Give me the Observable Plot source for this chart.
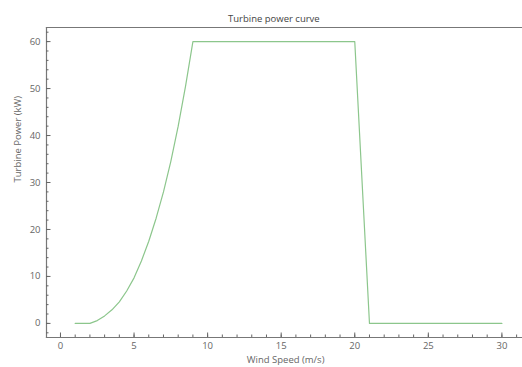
<!DOCTYPE html>
<html>
<head>
<meta charset="utf-8">
<script src="https://cdn.jsdelivr.net/npm/d3@7"></script>
<script src="https://cdn.jsdelivr.net/npm/@observablehq/plot@0.6"></script>
<style>
  html, body { margin: 0; padding: 0; background: #fff; }
  #chart svg { display: block; }
</style>
</head>
<body>
<div id="chart"></div>
<script>
const windSpeed = [1, 2, 2.5, 3, 3.5, 4, 4.5, 5, 5.5, 6, 6.5, 7, 7.5, 8, 8.5, 9, 20, 21, 30];
const power =     [0, 0, 0.6, 1.6, 2.9, 4.6, 6.9, 9.7, 13.3, 17.5, 22.4, 28, 34.5, 42, 50.5, 60, 60, 0, 0];
const xTicks = [0, 5, 10, 15, 20, 25, 30];
const yTicks = [0, 10, 20, 30, 40, 50, 60];
const titleText = "Turbine power curve";
const xLabel = "Wind Speed (m/s)";
const yLabel = "Turbine Power (kW)";

const data = windSpeed.map((x, i) => ({x, y: power[i]}));
const xMinor = d3.range(0, 32, 1);
const yMinor = d3.range(-2, 63, 2);
const axisColor = "#666";
const textColor = "#666";

const W = 522, H = 367, mL = 46, mR = 0, mT = 27, mB = 30;
const fw = W - mL - mR, fh = H - mT - mB;

const chart = Plot.plot({
  width: W,
  height: H,
  marginLeft: mL,
  marginRight: mR,
  marginTop: mT,
  marginBottom: mB,
  style: {fontFamily: "'Open Sans', 'Noto Sans', sans-serif", fontSize: "9.5px", color: textColor, background: "#fff"},
  x: {domain: [-0.95, 31.4]},
  y: {domain: [-3, 63]},
  marks: [
    Plot.frame({anchor: "top", stroke: "#777", strokeWidth: 1.2}),
    Plot.frame({anchor: "left", stroke: "#777", strokeWidth: 1.2}),
    Plot.frame({anchor: "bottom", stroke: "#777", strokeWidth: 1.2}),
    // inward ticks
    Plot.tickX(xMinor, {x: d => d, insetTop: fh - 2.5, stroke: axisColor}),
    Plot.tickX(xTicks, {x: d => d, insetTop: fh - 4.5, stroke: axisColor}),
    Plot.tickY(yMinor, {y: d => d, insetRight: fw - 2.5, stroke: axisColor}),
    Plot.tickY(yTicks, {y: d => d, insetRight: fw - 4.5, stroke: axisColor}),
    Plot.axisX({ticks: xTicks, tickSize: 0, tickPadding: 5, fill: textColor, label: null}),
    Plot.axisY({ticks: yTicks, tickSize: 0, tickPadding: 6, fill: textColor, label: null}),
    Plot.line(data, {x: "x", y: "y", stroke: "#8cc68c", strokeWidth: 1.2}),
    Plot.text([titleText], {x: 14.5, frameAnchor: "top", dy: -12, text: d => d, fill: "#444", fontSize: 9.5}),
    Plot.text([xLabel], {x: 15.3, frameAnchor: "bottom", dy: 25, text: d => d, fill: textColor, fontSize: 9.5}),
    Plot.text([yLabel], {y: 30, frameAnchor: "left", dx: -29, rotate: -90, text: d => d, fill: textColor, fontSize: 9.5})
  ]
});
document.getElementById("chart").appendChild(chart);
</script>
</body>
</html>
